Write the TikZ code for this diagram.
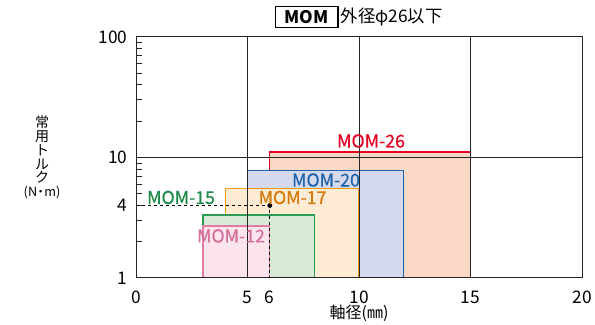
\documentclass[tikz,border=0pt]{standalone}
\usepackage{fontspec}
\setmainfont{Noto Sans CJK JP}
\newfontfamily\modelfont[FakeBold=0.6]{Noto Sans CJK JP}
\usepackage{tikz}
\usetikzlibrary{positioning}

\definecolor{edge26}{HTML}{E60023}
\definecolor{fill26}{HTML}{F9D9C6}
\definecolor{edge20}{HTML}{1F63AD}
\definecolor{fill20}{HTML}{D4D9ED}
\definecolor{edge17}{HTML}{F39A12}
\definecolor{fill17}{HTML}{FDEBD3}
\definecolor{text17}{HTML}{D57A0C}
\definecolor{edge15}{HTML}{2E9B55}
\definecolor{fill15}{HTML}{D6EAD6}
\definecolor{text15}{HTML}{1E8A48}
\definecolor{edge12}{HTML}{E27BA6}
\definecolor{fill12}{HTML}{FBE4EC}
\definecolor{text12}{HTML}{D66E9C}

\begin{document}
\begin{tikzpicture}[x=16.725pt, y=90.375pt, semithick]

    \useasboundingbox (-6.099,-0.382) rectangle (20.583,2.307);

    \tikzstyle{band} = [line width=1pt]
    \tikzstyle{gridline} = [line width=0.75pt, black!85]
    \tikzstyle{num} = [font=\fontsize{13}{15}\selectfont, inner sep=0pt]
    \tikzstyle{model} = [font=\modelfont\fontsize{13.3}{15}\selectfont, inner sep=0pt]

    % ranges, biggest first
    \filldraw[band, fill=fill26, draw=edge26] (6,0) -- (6,1.045) -- (15,1.045) -- (15,0);
    \filldraw[band, fill=fill20, draw=edge20] (5,0) -- (5,0.89) -- (12,0.89) -- (12,0);
    \filldraw[band, fill=fill17, draw=edge17] (4,0) -- (4,0.744) -- (10,0.744) -- (10,0);
    \filldraw[band, fill=fill15, draw=edge15] (3,0) -- (3,0.523) -- (8,0.523) -- (8,0);
    \filldraw[band, fill=fill12, draw=edge12] (3,0) -- (3,0.432) -- (6,0.432) -- (6,0);

    % grid and frame
    \draw[gridline] (0,1) -- (20,1);
    \foreach \x in {5,10,15}
        \draw[gridline] (\x,0) -- (\x,2);
    \draw[gridline] (0,0) rectangle (20,2);
    \foreach \k in {2,...,9} {
        \draw[gridline] (0,{log10(\k)}) -- ++(0.25,0);
        \draw[gridline] (0,{1+log10(\k)}) -- ++(0.25,0);
    }

    % axis numbers
    \node (y1)    [num, anchor=east] at (-0.36,0)            {1};
    \node (y4)    [num, anchor=east] at (-0.36,{log10(4)})   {4};
    \node (y10)   [num, anchor=east] at (-0.36,1)            {10};
    \node (y100)  [num, anchor=east] at (-0.36,2)            {100};
    \foreach \x in {0,5,6,10,15,20}
        \node (x\x) [num] at (\x,-0.158) {\x};

    % axis titles
    \node (ylabel) [align=center, font=\fontsize{10.5}{10.3}\selectfont, inner sep=0pt] at (-4.215,1.0)
        {常\\用\\ト\\ル\\ク\\{\fontsize{9.5}{10.5}\selectfont(N\kern-0.22em・\kern-0.22em m)}};
    \node (xlabel) [font=\fontsize{12}{14}\selectfont] at (10,-0.29) {軸径(㎜)};

    % title
    \node (mom)  [draw, line width=1pt, minimum width=47pt, minimum height=16pt, inner sep=1pt,
                  font=\bfseries\fontsize{13}{15}\selectfont] at (7.646,2.166) {MOM};
    \node (size) [right=1.5pt of mom, inner sep=0pt, font=\fontsize{13}{15}\selectfont] {外径φ26以下};

    % example: 6 mm at 4 N·m
    \coordinate (t4) at (0,{log10(4)});
    \coordinate (s6) at (6,0);
    \node (pick) [circle, fill, inner sep=1.3pt] at (6,{log10(4)}) {};
    \draw[dashed, line width=0.9pt, dash pattern=on 2.6pt off 1.9pt] (t4) -- (pick.center) -- (s6);

    % model names
    \node (m26) [model, text=edge26] at (10.54,1.137) {MOM-26};
    \node (m20) [model, text=edge20] at (8.52,0.813)  {MOM-20};
    \node (m17) [model, text=text17] at (7.02,0.668)  {MOM-17};
    \node (m15) [model, text=text15] at (2.02,0.668)  {MOM-15};
    \node (m12) [model, text=text12] at (4.26,0.349)  {MOM-12};

\end{tikzpicture}
\end{document}
